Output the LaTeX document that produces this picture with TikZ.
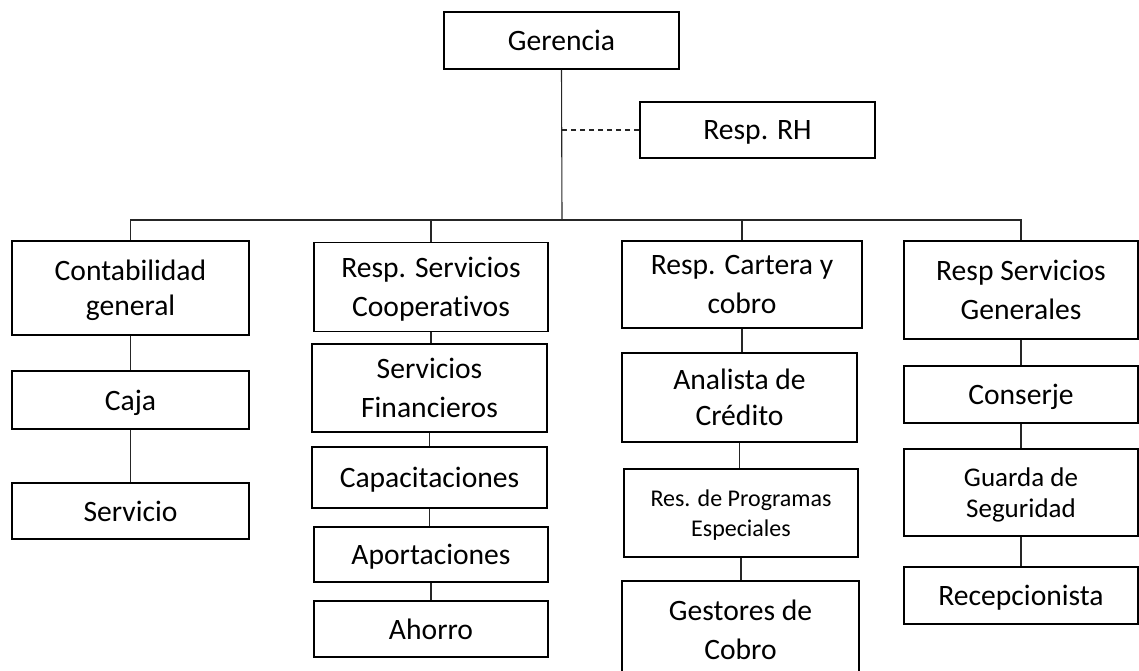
\documentclass[tikz,border=0pt]{standalone}
\usepackage{fontspec}
\setmainfont{Carlito}[Ligatures=NoCommon]
\usetikzlibrary{positioning,calc}

\begin{document}
\begin{tikzpicture}[x=0.5pt,y=-0.5pt] % one unit = one pixel of the chart, y grows downwards
\tikzset{box/.style={draw, line width=0.8pt, inner sep=0pt, text depth=0pt, align=center, minimum width=117.5pt, font=\fontsize{14.8}{19.5}\selectfont}}
\tikzset{link/.style={line width=0.55pt, black!85}}
\tikzset{small/.style={font=\fontsize{12}{15}\selectfont}}
\useasboundingbox (0,0) rectangle (1139,670);

% top
\node[box, minimum height=28.5pt] (ger) at (561.5,40.5) {Gerencia};
\node[box, minimum height=28pt] (rh) at (757.5,130) {Resp. RH};

% column 1
\node[box, minimum width=118.5pt, minimum height=47pt, font=\fontsize{14.8}{17.5}\selectfont] (cont) at (130.5,288) {Contabilidad\\general};
\node[box, minimum width=118.5pt, minimum height=29pt] (caja) at (130.5,400) {Caja};
\node[box, minimum width=118.5pt, minimum height=28pt] (serv) at (130.5,511) {Servicio};

% column 2
\node[box, minimum width=117pt, minimum height=44.5pt] (coop) at (431,287) {Resp. Servicios\\Cooperativos};
\node[box, minimum height=44pt] (fin) at (429.5,388) {Servicios\\Financieros};
\node[box, minimum height=30.5pt] (cap) at (429.5,477.5) {Capacitaciones};
\node[box, minimum width=117pt, minimum height=27.5pt] (apo) at (431,554.5) {Aportaciones};
\node[box, minimum width=117pt, minimum height=28pt] (aho) at (431,629) {Ahorro};

% column 3
\node[box, minimum width=120pt, minimum height=43.5pt] (cart) at (742,284.5) {Resp. Cartera y\\cobro};
\node[box, minimum height=44.5pt, font=\fontsize{14.8}{18}\selectfont] (anal) at (739.5,397.5) {Analista de\\Crédito};
\node[box, small, minimum width=117pt, minimum height=44pt] (prog) at (741,513) {Res. de Programas\\Especiales};
\node[box, minimum width=118.5pt, minimum height=49pt] (gest) at (740.5,630) {Gestores de\\Cobro};

% column 4
\node[box, minimum width=117pt, minimum height=49pt] (gen) at (1021,290) {Resp Servicios\\Generales};
\node[box, minimum width=117pt, minimum height=28.5pt] (cons) at (1021,394.5) {Conserje};
\node[box, minimum width=117pt, minimum height=43.5pt, font=\fontsize{13.5}{15.5}\selectfont] (guar) at (1021,492.5) {Guarda de\\Seguridad};
\node[box, minimum width=117pt, minimum height=28.5pt] (rec) at (1021,595.5) {Recepcionista};

% connectors
\coordinate (bar) at (562,220);
\draw[link] (ger.south) -- (bar);
\draw[link, dash pattern=on 2.5pt off 2pt] (rh.west) -- (rh.west -| ger.south);
\draw[link] (cont.north) |- (bar) -| (gen.north);
\draw[link] (coop.north) -- (coop.north |- bar);
\draw[link] (cart.north) -- (cart.north |- bar);
\foreach \a/\b in {cont/caja, caja/serv, coop/fin, fin/cap, cap/apo, apo/aho, cart/anal, anal/prog, prog/gest, gen/cons, cons/guar, guar/rec}
  \draw[link] (\a.south) -- (\a.south |- \b.north);
\end{tikzpicture}
\end{document}
